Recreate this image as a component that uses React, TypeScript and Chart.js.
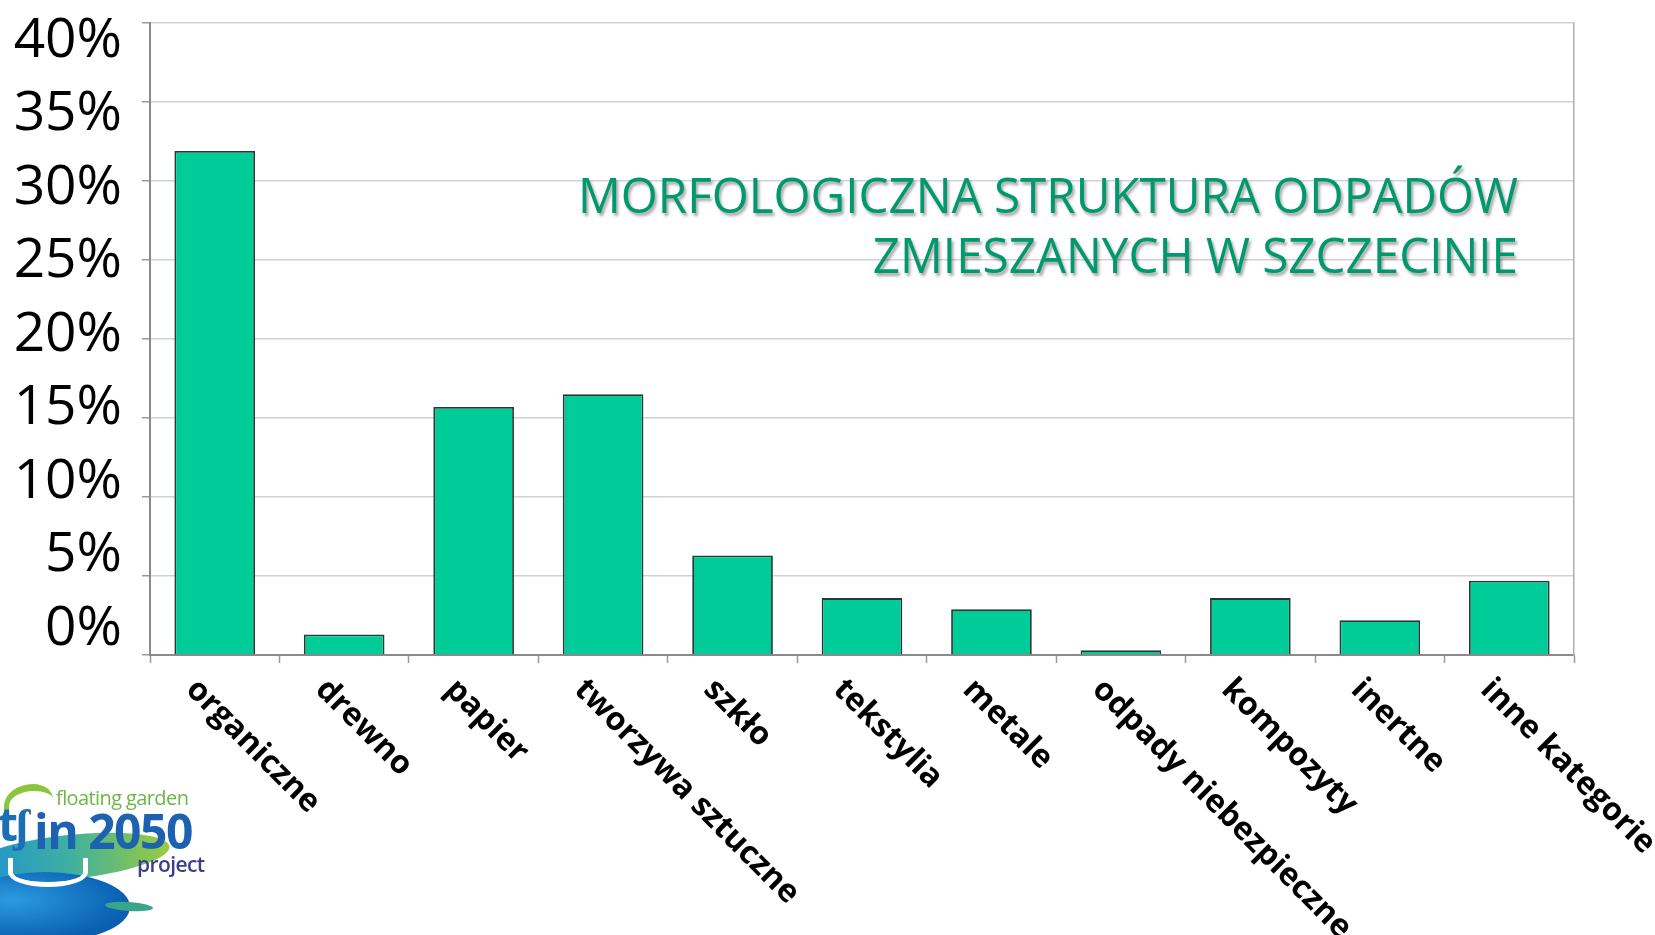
import React, { useEffect, useRef } from 'react';
import { Chart, registerables } from 'chart.js';

Chart.register(...registerables);

const CATEGORIES = [
  'organiczne',
  'drewno',
  'papier',
  'tworzywa sztuczne',
  'szkło',
  'tekstylia',
  'metale',
  'odpady niebezpieczne',
  'kompozyty',
  'inertne',
  'inne kategorie',
];
const VALUES = [31.9, 1.3, 15.7, 16.5, 6.3, 3.6, 2.9, 0.3, 3.6, 2.2, 4.7];
const Y_TICKS = [0, 5, 10, 15, 20, 25, 30, 35, 40];
const TITLE_LINES = ['MORFOLOGICZNA STRUKTURA ODPADÓW', 'ZMIESZANYCH W SZCZECINIE'];

const slantedLabels = {
  id: 'slantedLabels',
  afterDraw(chart: any) {
    const { ctx } = chart;
    const xs = chart.scales.x;
    ctx.save();
    ctx.font = 'bold 32px "Open Sans"';
    ctx.fillStyle = '#000';
    ctx.textAlign = 'left';
    ctx.textBaseline = 'alphabetic';
    CATEGORIES.forEach((lab, i) => {
      const px = xs.getPixelForValue(i);
      const py = xs.top;
      ctx.save();
      ctx.translate(px - 30, py + 36);
      ctx.rotate(Math.PI / 4);
      ctx.fillText(lab, 0, 0);
      ctx.restore();
    });
    ctx.restore();
  },
};

const titlePlugin = {
  id: 'innerTitle',
  afterDraw(chart: any) {
    const { ctx } = chart;
    ctx.save();
    ctx.font = '49px "Open Sans"';
    const w1 = ctx.measureText(TITLE_LINES[0]).width;
    const sx = 940 / w1;
    ctx.textAlign = 'right';
    ctx.textBaseline = 'alphabetic';
    ctx.fillStyle = '#00996e';
    ctx.strokeStyle = '#00996e';
    ctx.lineWidth = 0.6;
    ctx.shadowColor = 'rgba(0,0,0,0.35)';
    ctx.shadowOffsetX = 2;
    ctx.shadowOffsetY = 3;
    ctx.shadowBlur = 3;
    const baselines = [213, 273];
    TITLE_LINES.forEach((line, i) => {
      ctx.save();
      ctx.translate(1518, baselines[i]);
      ctx.scale(sx, 1);
      ctx.fillText(line, 0, 0);
      ctx.restore();
    });
    ctx.restore();
  },
};

export default function App() {
  const canvasRef = useRef<HTMLCanvasElement | null>(null);

  useEffect(() => {
    document.body.style.margin = '0';
    document.body.style.background = '#fff';
    const canvas = canvasRef.current;
    if (!canvas) return;
    const chart = new Chart(canvas, {
      type: 'bar',
      data: {
        labels: CATEGORIES,
        datasets: [
          {
            data: VALUES,
            xAxisID: 'x',
            yAxisID: 'y',
            backgroundColor: '#00CC99',
            borderColor: '#2a3833',
            borderWidth: 1.8,
            barPercentage: 0.623,
            categoryPercentage: 1.0,
          },
        ],
      },
      options: {
        animation: false,
        responsive: true,
        maintainAspectRatio: false,
        layout: { padding: { top: 23, right: 81, bottom: 0, left: 0 } },
        plugins: {
          legend: { display: false },
          tooltip: { enabled: false },
          title: { display: false },
        },
        scales: {
          x: {
            type: 'category',
            ticks: { display: false },
            grid: {
              offset: true,
              drawOnChartArea: false,
              drawTicks: true,
              tickLength: 8,
              tickColor: '#9a9a9a',
              tickWidth: 1.5,
            },
            border: { color: '#8a8a8a', width: 2 },
            afterFit(scale: any) {
              scale.height = 280;
              scale.paddingLeft = 0;
              scale.paddingRight = 0;
            },
          },
          y: {
            type: 'linear',
            position: 'left',
            min: 0,
            max: 40,
            ticks: { display: false, stepSize: 5 },
            grid: {
              color: '#d2d2d2',
              lineWidth: 1.5,
              drawTicks: true,
              tickLength: 8,
              tickColor: '#9a9a9a',
            },
            border: { color: '#8a8a8a', width: 2 },
            afterFit(scale: any) {
              scale.width = 0;
              scale.paddingTop = 0;
              scale.paddingBottom = 0;
            },
          },
          yl: {
            type: 'linear',
            position: 'left',
            min: -1.769,
            max: 41.224,
            afterBuildTicks(axis: any) {
              axis.ticks = Y_TICKS.map((v) => ({ value: v }));
            },
            ticks: {
              autoSkip: false,
              padding: 28,
              color: '#000',
              font: { family: '"Open Sans"', size: 55, weight: 'normal' },
              callback: (v: any) => `${v}%`,
            },
            grid: { display: false, drawTicks: false },
            border: { display: false },
            afterFit(scale: any) {
              scale.width = 150;
              scale.paddingTop = 0;
              scale.paddingBottom = 0;
            },
          },
          yr: {
            type: 'linear',
            position: 'right',
            min: 0,
            max: 40,
            ticks: { display: false },
            grid: { drawOnChartArea: false, drawTicks: false },
            border: { color: '#b0b0b0', width: 1.5 },
            afterFit(scale: any) {
              scale.width = 0;
              scale.paddingTop = 0;
              scale.paddingBottom = 0;
            },
          },
        },
      } as any,
      plugins: [slantedLabels, titlePlugin],
    });
    return () => chart.destroy();
  }, []);

  return (
    <div style={{ position: 'relative', width: 1655, height: 935, background: '#fff', overflow: 'hidden' }}>
      <canvas ref={canvasRef} />
      <div style={{ position: 'absolute', left: 0, top: 780, width: 215, height: 155, overflow: 'hidden', pointerEvents: 'none' }}>
        <div style={{ position: 'absolute', left: 4, top: 4, width: 44, height: 30, borderTop: '7px solid #8cc63f', borderLeft: '5px solid #8cc63f', borderRadius: '60% 40% 0 0' }} />
        <div style={{ position: 'absolute', left: -30, top: 55, width: 200, height: 44, borderRadius: '50%', background: 'linear-gradient(90deg,#1c8fd6,#3fb0a0 50%,#9ccc3c)', transform: 'rotate(-6deg)' }} />
        <div style={{ position: 'absolute', left: -40, top: 92, width: 170, height: 70, borderRadius: '50%', background: 'radial-gradient(ellipse at 30% 40%, #2a9be0, #0a5fb0 70%)' }} />
        <div style={{ position: 'absolute', left: 8, top: 78, width: 70, height: 24, border: '5px solid #fff', borderTop: 'none', borderRadius: '0 0 50% 50%' }} />
        <div style={{ position: 'absolute', left: 105, top: 122, width: 48, height: 9, borderRadius: '50%', background: '#3aa58a', transform: 'rotate(4deg)' }} />
        <div style={{ position: 'absolute', left: -2, top: 16, fontFamily: '"Open Sans"', fontWeight: 700, fontSize: 46, color: '#1a6fb5', lineHeight: '54px', whiteSpace: 'nowrap', letterSpacing: -3 }}>tʃ</div>
        <div style={{ position: 'absolute', left: 56, top: 6, fontFamily: '"Open Sans"', fontSize: 20, color: '#6db546', lineHeight: '24px', whiteSpace: 'nowrap', letterSpacing: -0.6 }}>floating garden</div>
        <div style={{ position: 'absolute', left: 34, top: 23, fontFamily: '"Open Sans"', fontWeight: 700, fontSize: 48, color: '#1d62b0', lineHeight: '56px', whiteSpace: 'nowrap', letterSpacing: -1.5 }}>in 2050</div>
        <div style={{ position: 'absolute', left: 137, top: 73, fontFamily: '"Open Sans"', fontWeight: 600, fontSize: 21, color: '#3a3f8c', lineHeight: '22px', whiteSpace: 'nowrap', letterSpacing: -0.6 }}>project</div>
      </div>
    </div>
  );
}
